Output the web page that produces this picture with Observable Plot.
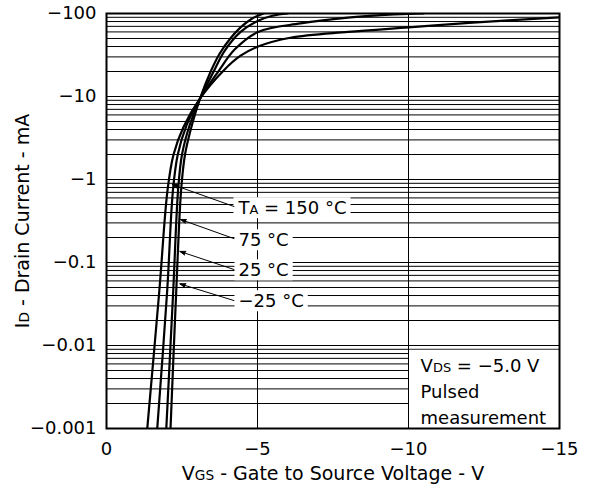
<!DOCTYPE html>
<html><head><meta charset="utf-8">
<script src="https://cdn.jsdelivr.net/npm/d3@7"></script>
<script src="https://cdn.jsdelivr.net/npm/@observablehq/plot@0.6"></script>
<style>
body{margin:0;background:#fff;}
#chart svg{font-family:"DejaVu Sans",sans-serif;}
</style></head><body><div id="chart"></div>
<script>
// Transfer characteristics: VGS (V) vs ID (mA), one curve per ambient temperature
const temps = ["−25 °C", "25 °C", "75 °C", "150 °C"];
const vgsM25  = [-2.12, -2.31, -2.47, -2.60, -2.84, -3.10, -3.45, -3.75, -4.10, -4.44, -4.80, -5.20];
const idM25   = [-0.001, -0.046, -0.74, -2.0, -4.7, -9.5, -20, -33, -50, -68, -86, -100];
const vgs25   = [-1.98, -2.21, -2.37, -2.50, -2.76, -3.10, -3.55, -3.90, -4.44, -5.02, -5.50, -6.00];
const id25    = [-0.001, -0.046, -0.74, -2.0, -4.6, -9.5, -20, -35, -60, -82, -94, -100];
const vgs75   = [-1.68, -2.01, -2.20, -2.36, -2.65, -3.10, -3.70, -4.25, -5.02, -6.42, -8.08, -9.07, -10.0, -10.5];
const id75    = [-0.001, -0.046, -0.74, -2.0, -4.5, -9.5, -20, -37, -60, -76, -90, -95.5, -99, -100];
const vgs150  = [-1.35, -1.75, -2.02, -2.22, -2.55, -3.10, -3.88, -4.44, -5.02, -6.09, -8.0, -10.0, -12.0, -15.0];
const id150   = [-0.001, -0.046, -0.74, -2.0, -4.3, -9.5, -20.6, -31, -40, -51, -60, -68, -77, -90];

const xTicks = [0, -5, -10, -15];
const yTicks = [-0.001, -0.01, -0.1, -1, -10, -100];
const xGrid = [-5, -10];

// arrow annotations: label position and the curve point each arrow points at
const labelText = ["T_{A} = 150 °C", "75 °C", "25 °C", "−25 °C"];
const labelVgs  = [-4.37, -4.37, -4.37, -4.37];
const labelId   = [-0.448, -0.184, -0.080, -0.0339];
const arrowFromVgs = [-4.22, -4.22, -4.22, -4.22];
const arrowFromId  = [-0.473, -0.194, -0.0824, -0.0348];
const arrowToVgs   = [-2.18, -2.45, -2.43, -2.43];
const arrowToId    = [-0.87, -0.33, -0.136, -0.0553];

const noteText = "V_{DS} = −5.0 V\nPulsed\nmeasurement";
const xTitle = "V_{GS} - Gate to Source Voltage - V";
const yTitle = "I_{D} - Drain Current - mA";

// ---- build tables ----
const series = [[vgsM25, idM25], [vgs25, id25], [vgs75, id75], [vgs150, id150]];
const rows = series.flatMap(([vs, is], k) => vs.map((v, i) => ({temp: temps[k], vgs: v, id: is[i]})));
const labels = labelText.map((t, i) => ({text: t, vgs: labelVgs[i], id: labelId[i]}));
const arrows = arrowFromVgs.map((v, i) => ({x1: v, y1: arrowFromId[i], x2: arrowToVgs[i], y2: arrowToId[i]}));

const minor = [];
for (let e = -3; e <= 1; e++) for (let k = 1; k <= 9; k++) minor.push(k * Math.pow(10, e));
minor.push(100);

const mag = v => Math.abs(v);
const fmtY = d => "−" + d3.format("~g")(d);
const fmtX = d => d === 0 ? "0" : "−" + Math.abs(d);

const chart = Plot.plot({
  width: 590, height: 493,
  marginLeft: 106, marginRight: 31, marginTop: 13, marginBottom: 65,
  style: {fontFamily: "DejaVu Sans, sans-serif", fontSize: "18px", color: "black", background: "white"},
  x: {domain: [0, -15]},
  y: {type: "log", domain: [0.001, 100]},
  marks: [
    Plot.gridY(minor, {stroke: "black", strokeOpacity: 1, strokeWidth: 1}),
    Plot.gridX(xGrid, {stroke: "black", strokeOpacity: 1, strokeWidth: 1}),
    Plot.rect([0], {x1: () => -10, x2: () => -15, y1: () => 0.001, y2: () => 0.009, fill: "white", insetLeft: 1, insetTop: 1}),
    Plot.line(rows, {x: "vgs", y: d => mag(d.id), z: "temp", curve: "catmull-rom", stroke: "black", strokeWidth: 2.2, clip: true}),
    Plot.text(labels, {x: "vgs", y: d => mag(d.id), text: "text", textAnchor: "start", fill: "black"}),
    Plot.arrow(arrows, {x1: "x1", y1: d => mag(d.y1), x2: "x2", y2: d => mag(d.y2), stroke: "black", fill: "black", strokeWidth: 1, headLength: 9, headAngle: 38}),
    Plot.text([noteText], {x: () => -10.4, y: () => 0.00295, text: d => d, textAnchor: "start", lineHeight: 1.47, fill: "black"}),
    Plot.frame({stroke: "black", strokeWidth: 2}),
    Plot.axisX(xTicks, {tickSize: 0, tickPadding: 14, tickFormat: fmtX, label: null}),
    Plot.axisY(yTicks.map(mag), {tickSize: 0, tickPadding: 10, tickFormat: fmtY, label: null}),
    Plot.text([xTitle], {frameAnchor: "bottom", dy: 51, text: d => d, textAnchor: "middle", fontSize: 19}),
    Plot.text([yTitle], {frameAnchor: "left", dx: -84, rotate: -90, text: d => d, textAnchor: "middle", fontSize: 19})
  ]
});

// render subscripts written as _{...}
function subscripts(svg) {
  const ns = "http://www.w3.org/2000/svg";
  svg.querySelectorAll("text, tspan").forEach(el => {
    if (el.children.length) return;
    const s = el.textContent;
    if (!s.includes("_{")) return;
    el.textContent = "";
    const re = /_\{([^}]*)\}/g;
    let last = 0, m;
    while ((m = re.exec(s))) {
      if (m.index > last) el.appendChild(document.createTextNode(s.slice(last, m.index)));
      const t = document.createElementNS(ns, "tspan");
      t.setAttribute("font-size", "0.72em");
      t.textContent = m[1];
      el.appendChild(t);
      last = re.lastIndex;
    }
    if (last < s.length) el.appendChild(document.createTextNode(s.slice(last)));
  });
}
subscripts(chart);
document.getElementById("chart").appendChild(chart);

// white background behind the temperature labels (hides the grid as in the original)
try {
  const ns = "http://www.w3.org/2000/svg";
  Array.from(chart.querySelectorAll("text"))
    .filter(t => t.textContent.includes("°C"))
    .forEach(t => {
      const b = t.getBBox();
      const r = document.createElementNS(ns, "rect");
      r.setAttribute("x", b.x - 4);
      r.setAttribute("y", b.y);
      r.setAttribute("width", b.width + 8);
      r.setAttribute("height", b.height);
      r.setAttribute("fill", "white");
      const tr = t.getAttribute("transform");
      if (tr) r.setAttribute("transform", tr);
      t.parentNode.insertBefore(r, t);
    });
} catch (e) { console.error(e); }
</script>
</body></html>
